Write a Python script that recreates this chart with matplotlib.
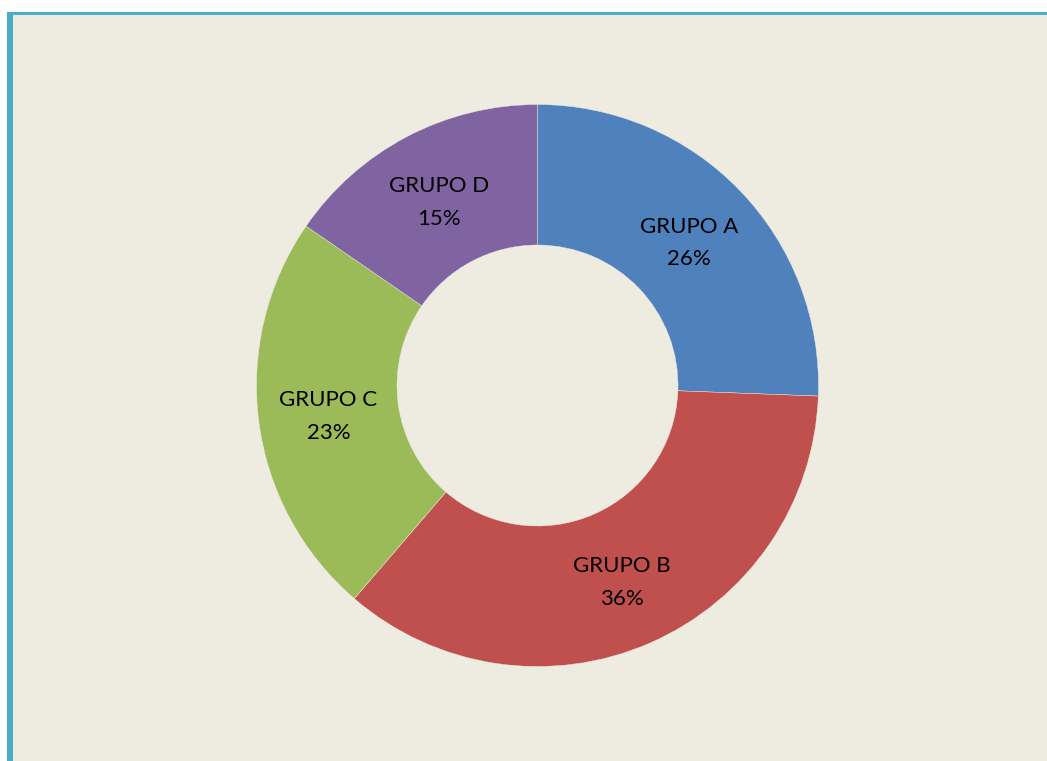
import numpy as np
import matplotlib.pyplot as plt
from matplotlib.patches import Rectangle

# ---- data ----
grupos = ['GRUPO A', 'GRUPO B', 'GRUPO C', 'GRUPO D']
valores = [25.6, 35.7, 23.3, 15.4]
colores = ['#4F81BD', '#C0504D', '#9BBB59', '#8064A2']

fig = plt.figure(figsize=(10.47, 7.61), dpi=100)
fig.patch.set_facecolor('white')

# ---- fondo y borde ----
W, H = 1047.0, 761.0
fig.patches.append(Rectangle((13 / W, 0), 1, 1 - 15 / H, transform=fig.transFigure,
                             facecolor='#EEEBE1', edgecolor='none', zorder=-2))
fig.patches.append(Rectangle((7 / W, 0), 6 / W, 1 - 12 / H, transform=fig.transFigure,
                             facecolor='#4BACC6', edgecolor='none', zorder=-1))
fig.patches.append(Rectangle((7 / W, 1 - 15 / H), 1, 3 / H, transform=fig.transFigure,
                             facecolor='#4BACC6', edgecolor='none', zorder=-1))

# ---- donut ----
r = 281 / H
cx, cy = 537.5 / W, 1 - 385.5 / H
ax = fig.add_axes([cx - r * H / W, cy - r, 2 * r * H / W, 2 * r])
ax.set_zorder(5)
ax.set_facecolor('none')

wedges, _ = ax.pie(valores, colors=colores, startangle=90, counterclock=False,
                   radius=1.0, wedgeprops=dict(width=0.5, edgecolor='#EEEBE1', linewidth=0.3))
ax.set_xlim(-1, 1)
ax.set_ylim(-1, 1)
ax.set_aspect('equal')
ax.axis('off')

# ---- etiquetas ----
total = sum(valores)
ang = 90
for g, v in zip(grupos, valores):
    mid = np.deg2rad(ang - v / total * 360 / 2)
    ang -= v / total * 360
    ax.text(0.75 * np.cos(mid), 0.75 * np.sin(mid) - 0.013, '%s\n%.0f%%' % (g, v / total * 100),
            ha='center', va='center', fontsize=16, family='Lato', linespacing=1.8)

fig.savefig('out.png', dpi=100, facecolor=fig.get_facecolor())
